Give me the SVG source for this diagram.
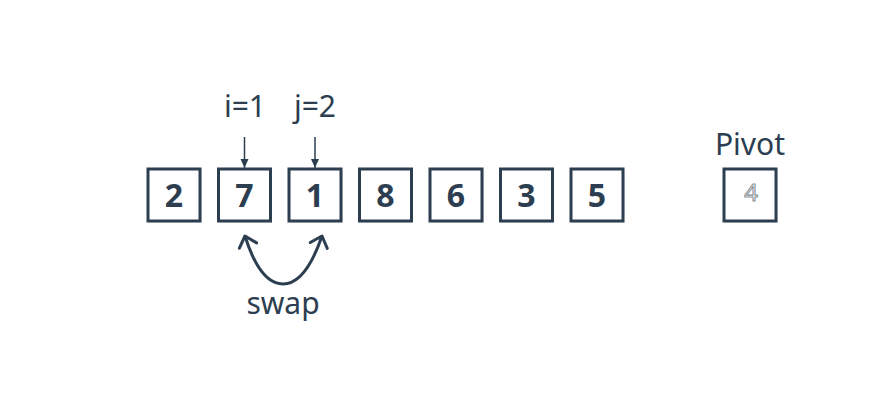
<svg xmlns="http://www.w3.org/2000/svg" width="870" height="400" viewBox="0 0 870 400">
  <defs>
    <style>
      .box { fill: #ffffff; stroke: #2c3e50; stroke-width: 3; }
      .shadow { fill: #d5d9dd; }
      .num { font-family: "Noto Sans", "Open Sans", sans-serif; font-size: 32px; font-weight: bold; fill: #2c3e50; text-anchor: middle; }
      .lbl { font-family: "Noto Sans", "Open Sans", sans-serif; font-size: 30px; fill: #2c3e50; text-anchor: middle; }
      .piv { font-family: "Noto Sans", "Open Sans", sans-serif; font-size: 24px; fill: #ffffff; stroke: #8c939a; stroke-width: 1.1; text-anchor: middle; }
      .ptr { stroke: #2c3e50; stroke-width: 1.5; fill: none; }
      .swap { stroke: #2c3e50; stroke-width: 3; fill: none; }
    </style>
    <marker id="ah" markerWidth="10" markerHeight="10" refX="9" refY="5" orient="auto" markerUnits="userSpaceOnUse">
      <path d="M0,1 L9,5 L0,9 Z" fill="#2c3e50"/>
    </marker>
    <marker id="chev" markerWidth="24" markerHeight="24" refX="12" refY="12" orient="auto-start-reverse" markerUnits="userSpaceOnUse">
      <path d="M2,3 L12,12 L2,21" fill="none" stroke="#2c3e50" stroke-width="3" stroke-linecap="round" stroke-linejoin="round"/>
    </marker>
  </defs>
  <rect width="870" height="400" fill="#ffffff"/>

  <g id="node-2"><rect class="shadow" x="149.5" y="170.5" width="52" height="52"/><rect class="box" x="148" y="169" width="52" height="52"/><text class="num" x="174" y="207">2</text></g>
  <g id="node-7"><rect class="shadow" x="220" y="170.5" width="52" height="52"/><rect class="box" x="218.5" y="169" width="52" height="52"/><text class="num" x="244.5" y="207">7</text></g>
  <g id="node-1"><rect class="shadow" x="290.5" y="170.5" width="52" height="52"/><rect class="box" x="289" y="169" width="52" height="52"/><text class="num" x="315" y="207">1</text></g>
  <g id="node-8"><rect class="shadow" x="361" y="170.5" width="52" height="52"/><rect class="box" x="359.5" y="169" width="52" height="52"/><text class="num" x="385.5" y="207">8</text></g>
  <g id="node-6"><rect class="shadow" x="431.5" y="170.5" width="52" height="52"/><rect class="box" x="430" y="169" width="52" height="52"/><text class="num" x="456" y="207">6</text></g>
  <g id="node-3"><rect class="shadow" x="502" y="170.5" width="52" height="52"/><rect class="box" x="500.5" y="169" width="52" height="52"/><text class="num" x="526.5" y="207">3</text></g>
  <g id="node-5"><rect class="shadow" x="572.5" y="170.5" width="52" height="52"/><rect class="box" x="571" y="169" width="52" height="52"/><text class="num" x="597" y="207">5</text></g>

  <g id="pivot">
    <text class="lbl" x="750" y="155">Pivot</text>
    <rect class="shadow" x="725.5" y="170.5" width="52" height="52"/>
    <rect class="box" x="724" y="169" width="52" height="52"/>
    <text class="piv" x="751" y="201">4</text>
  </g>

  <g id="label-i"><text class="lbl" x="245" y="117">i=1</text></g>
  <g id="label-j"><text class="lbl" x="315" y="117">j=2</text></g>
  <g id="label-swap"><text class="lbl" x="283" y="314">swap</text></g>

  <g id="connectors">
    <line class="ptr" x1="244.5" y1="137" x2="244.5" y2="168" marker-end="url(#ah)"/>
    <line class="ptr" x1="315" y1="137" x2="315" y2="168" marker-end="url(#ah)"/>
    <path class="swap" d="M245,236 C255,268 268,284 283,284 C298,284 311,268 322,236" marker-start="url(#chev)" marker-end="url(#chev)"/>
  </g>
</svg>
